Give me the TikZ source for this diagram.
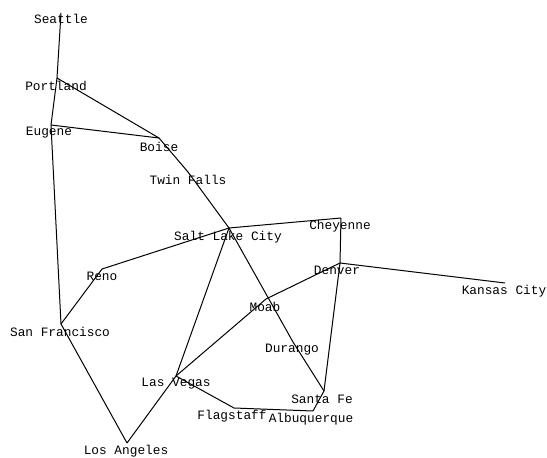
\documentclass[tikz,border=0pt]{standalone}
\usepackage{fontspec}
\setmonofont{Liberation Mono}
\tikzset{
  city/.style={inner sep=0pt,yshift=-0.8pt,font=\ttfamily\fontsize{12.8pt}{13pt}\selectfont,text=black},
  road/.style={line width=1pt,black,line join=miter}
}
\begin{document}
\begin{tikzpicture}[x=1pt,y=-1pt]
\useasboundingbox (0,0) rectangle (547,458);
\fill[white] (0,0) rectangle (547,458);
% vertices
\coordinate (sea) at (61,13);
\coordinate (por) at (57,78);
\coordinate (eug) at (51,125);
\coordinate (boi) at (159,138);
\coordinate (twi) at (188,172);
\coordinate (slc) at (229,228);
\coordinate (che) at (341,218);
\coordinate (den) at (340,263);
\coordinate (kan) at (505,283);
\coordinate (moa) at (266,299);
\coordinate (dur) at (293,342);
\coordinate (snt) at (324,391);
\coordinate (alb) at (313,411);
\coordinate (fla) at (234,408);
\coordinate (las) at (176,376);
\coordinate (los) at (127,443);
\coordinate (sfr) at (61,324);
\coordinate (ren) at (102,269);
% connectors
\draw[road] (sea) -- (por);
\draw[road] (por) -- (eug);
\draw[road] (por) -- (boi);
\draw[road] (eug) -- (boi);
\draw[road] (eug) -- (sfr);
\draw[road] (boi) -- (twi);
\draw[road] (twi) -- (slc);
\draw[road] (slc) -- (ren);
\draw[road] (ren) -- (sfr);
\draw[road] (sfr) -- (los);
\draw[road] (los) -- (las);
\draw[road] (las) -- (slc);
\draw[road] (las) -- (moa);
\draw[road] (moa) -- (den);
\draw[road] (slc) -- (che);
\draw[road] (che) -- (den);
\draw[road] (den) -- (kan);
\draw[road] (den) -- (snt);
\draw[road] (slc) -- (dur);
\draw[road] (dur) -- (snt);
\draw[road] (snt) -- (alb);
\draw[road] (alb) -- (fla);
\draw[road] (fla) -- (las);
% labels
\node[city] (seaL) at (61,18) {Seattle};
\node[city] (porL) at (56,85) {Portland};
\node[city] (eugL) at (49,132) {Eugene};
\node[city] (boiL) at (159,146) {Boise};
\node[city] (twiL) at (188,179) {Twin Falls};
\node[city] (slcL) at (228,236) {Salt Lake City};
\node[city] (cheL) at (340,225) {Cheyenne};
\node[city] (denL) at (337,270) {Denver};
\node[city] (kanL) at (504,290) {Kansas City};
\node[city] (moaL) at (265,306) {Moab};
\node[city] (durL) at (292,349) {Durango};
\node[city] (sntL) at (322,398) {Santa Fe};
\node[city] (albL) at (311,418) {Albuquerque};
\node[city] (flaL) at (232,415) {Flagstaff};
\node[city] (lasL) at (176,383) {Las Vegas};
\node[city] (losL) at (126,450) {Los Angeles};
\node[city] (sfrL) at (60,331) {San Francisco};
\node[city] (renL) at (102,276) {Reno};
\end{tikzpicture}
\end{document}
